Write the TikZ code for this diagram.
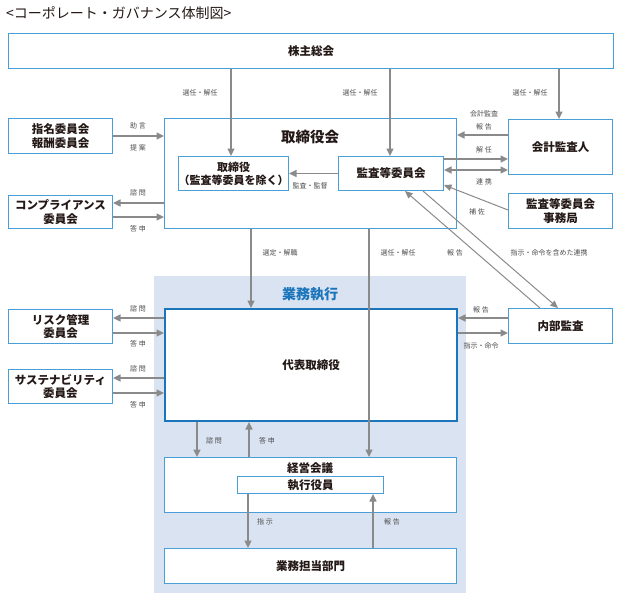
\documentclass[tikz,border=0pt]{standalone}
\usepackage{fontspec}
\setmainfont{Noto Sans CJK JP}
\usetikzlibrary{arrows.meta,calc}
\definecolor{bblue}{HTML}{4A9ED8}
\definecolor{dblue}{HTML}{1B75BB}
\definecolor{bgblue}{HTML}{DAE3F1}
\definecolor{agray}{HTML}{8A8A8A}
\definecolor{tdark}{HTML}{231815}
\definecolor{lgray}{HTML}{4D4D4D}
\begin{document}
\begin{tikzpicture}[x=1pt,y=-1pt,
 box/.style={draw=bblue, line width=1pt, fill=white, anchor=north west, inner sep=0pt, align=center,
   font=\fontsize{11.5}{13.5}\selectfont\bfseries, text=tdark},
 arr/.style={draw=agray, line width=1.6pt, -{Triangle[length=7.5pt,width=7pt]}},
 dbl/.style={draw=agray, line width=1.6pt, {Triangle[length=7.5pt,width=7pt]}-{Triangle[length=7.5pt,width=7pt]}},
 thinarr/.style={draw=agray, line width=1pt, -{Triangle[length=7.5pt,width=6.5pt]}},
 lab/.style={font=\fontsize{7}{8}\selectfont, text=lgray, inner sep=0pt},
]
\useasboundingbox (0,0) rectangle (622,600);
\fill[white] (0,0) rectangle (622,600);
\node[anchor=west, inner sep=0pt, font=\fontsize{14}{16}\selectfont, text=tdark] (title) at (6,13) {<コーポレート・ガバナンス体制図>};

\fill[bgblue] (154,276) rectangle (466,593);

% boxes
\node[box, minimum width=605pt, minimum height=35pt] (ss) at (8,33) {株主総会};
\node[box, minimum width=292pt, minimum height=110pt] (tb) at (164,118) {};
\node[font=\fontsize{14.5}{16}\selectfont\bfseries, text=tdark, inner sep=0pt] (tbt) at (310,137) {取締役会};
\node[box, minimum width=105pt, minimum height=34pt, font=\fontsize{11}{13}\selectfont\bfseries] (tr) at (178,156) {取締役\\（監査等委員を除く）};
\node[box, minimum width=105pt, minimum height=34pt] (kt) at (338,156) {監査等委員会};
\node[box, minimum width=104pt, minimum height=55pt] (ka) at (508,119) {会計監査人};
\node[box, minimum width=104pt, minimum height=35pt] (kj) at (508,193) {監査等委員会\\事務局};
\node[box, minimum width=104pt, minimum height=35pt] (sm) at (8,118) {指名委員会\\報酬委員会};
\node[box, minimum width=104pt, minimum height=33pt] (cp) at (8,195) {コンプライアンス\\委員会};
\node[font=\fontsize{14}{16}\selectfont\bfseries, text=dblue, inner sep=0pt] (gyo) at (310,294) {業務執行};
\node[box, draw=dblue, line width=2pt, minimum width=292pt, minimum height=112pt] (dh) at (164,308) {代表取締役};
\node[box, minimum width=104pt, minimum height=34pt] (rk) at (8,309) {リスク管理\\委員会};
\node[box, minimum width=104pt, minimum height=34pt] (sus) at (8,369) {サステナビリティ\\委員会};
\node[box, minimum width=104pt, minimum height=35pt] (nb) at (508,308) {内部監査};
\node[box, minimum width=292pt, minimum height=55pt] (kk) at (164,457) {};
\node[font=\fontsize{11.5}{13}\selectfont\bfseries, text=tdark, inner sep=0pt] (kkt) at (310,468) {経営会議};
\node[box, minimum width=146pt, minimum height=17pt] (sy) at (237,476) {執行役員};
\node[box, minimum width=292pt, minimum height=35pt] (bt) at (164,548) {業務担当部門};

% connectors from 株主総会
\draw[arr] (ss.south -| 231,0) -- (tr.north -| 231,0);
\node[lab] at (200,93) {選任・解任};
\draw[arr] (ss.south -| 390,0) -- (kt.north -| 390,0);
\node[lab] at (360,93) {選任・解任};
\draw[arr] (ss.south -| 559,0) -- (ka.north -| 559,0);
\node[lab] at (530,93) {選任・解任};

% inside board
\draw[arr] (kt.west) -- (tr.east);
\node[lab] at (310,186) {監査・監督};

% right side
\draw[arr] (ka.west |- 0,135) -- (tb.east |- 0,135);
\node[lab] at (484,114) {会計監査};
\node[lab] at (484,127) {報 告};
\draw[arr] (kt.east |- 0,159) -- (ka.west |- 0,159);
\node[lab] at (484,150) {解 任};
\draw[dbl] (kt.east |- 0,170) -- (ka.west |- 0,170);
\node[lab] at (484,182) {連 携};
\draw[thinarr] (kj.west |- 0,210) -- (kt.east |- 0,185);
\node[lab] at (477,212) {補 佐};

% left side, board
\draw[arr] (sm.east |- 0,136) -- (tb.west |- 0,136);
\node[lab] at (138,126) {助 言};
\node[lab] at (138,148) {提 案};
\draw[arr] (tb.west |- 0,203) -- (cp.east |- 0,203);
\draw[arr] (cp.east |- 0,217) -- (tb.west |- 0,217);
\node[lab] at (138,193) {諮 問};
\node[lab] at (138,229) {答 申};

% board to execution
\draw[arr] (tb.south -| 251,0) -- (dh.north -| 251,0);
\node[lab] at (280,253) {選定・解職};
\draw[arr] (tb.south -| 369,0) -- (kk.north -| 369,0);
\node[lab] at (398,253) {選任・解任};

% internal audit diagonals
\draw[thinarr] (nb.north -| 540,0) -- (kt.south -| 405,0);
\draw[thinarr] (kt.south -| 423,0) -- (nb.north -| 558,0);
\node[lab] at (455,253) {報 告};
\node[lab] at (549,253) {指示・命令を含めた連携};

\draw[arr] (nb.west |- 0,318) -- (dh.east |- 0,318);
\node[lab] at (481,310) {報 告};
\draw[arr] (dh.east |- 0,333) -- (nb.west |- 0,333);
\node[lab] at (481,346) {指示・命令};

% left committees
\draw[arr] (dh.west |- 0,318) -- (rk.east |- 0,318);
\draw[arr] (rk.east |- 0,333) -- (dh.west |- 0,333);
\node[lab] at (138,309) {諮 問};
\node[lab] at (138,344) {答 申};
\draw[arr] (dh.west |- 0,378) -- (sus.east |- 0,378);
\draw[arr] (sus.east |- 0,393) -- (dh.west |- 0,393);
\node[lab] at (138,369) {諮 問};
\node[lab] at (138,405) {答 申};

% executive meeting
\draw[arr] (dh.south -| 197,0) -- (kk.north -| 197,0);
\node[lab] at (214,441) {諮 問};
\draw[arr] (kk.north -| 249,0) -- (dh.south -| 249,0);
\node[lab] at (267,441) {答 申};

\draw[arr] (sy.south -| 248,0) -- (bt.north -| 248,0);
\node[lab] at (265,522) {指 示};
\draw[arr] (bt.north -| 373,0) -- (sy.south -| 373,0);
\node[lab] at (392,522) {報 告};
\end{tikzpicture}
\end{document}
